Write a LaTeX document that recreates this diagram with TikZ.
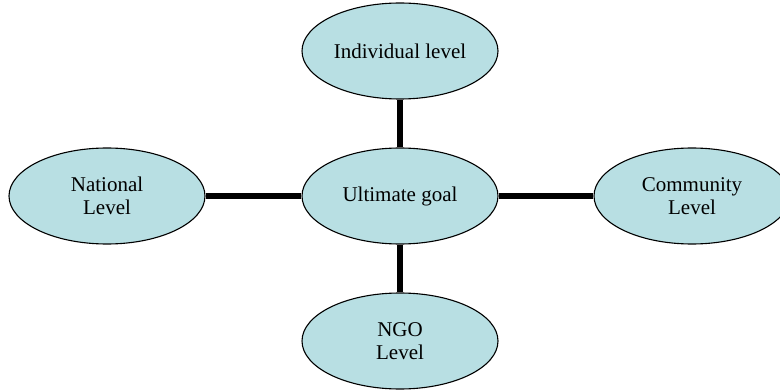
\documentclass[tikz,border=0pt]{standalone}
\usepackage{fontspec}
\setmainfont{Liberation Serif}
\usetikzlibrary{shapes.geometric}
\definecolor{ovalfill}{RGB}{184,223,227}
\begin{document}
\begin{tikzpicture}[x=1pt, y=1pt]
    \tikzstyle{oval}=[ellipse, draw, line width=1.1pt, fill=ovalfill,
                      inner sep=0pt, minimum width=196pt, minimum height=96pt,
                      align=center, font=\fontsize{21}{23.5}\selectfont]
    \tikzstyle{link}=[line width=5.5pt]
    \useasboundingbox (0,0) rectangle (780,389);

    \node[oval] (goal) at (400,193) {Ultimate goal};
    \node[oval] (ind) at (400,338) {Individual level};
    \node[oval] (nat) at (107,193) {National\\Level};
    \node[oval] (com) at (692,193) {Community\\Level};
    \node[oval] (ngo) at (400,48) {NGO\\Level};

    \path[link] (goal) edge (ind) edge (nat) edge (com) edge (ngo);
\end{tikzpicture}
\end{document}
